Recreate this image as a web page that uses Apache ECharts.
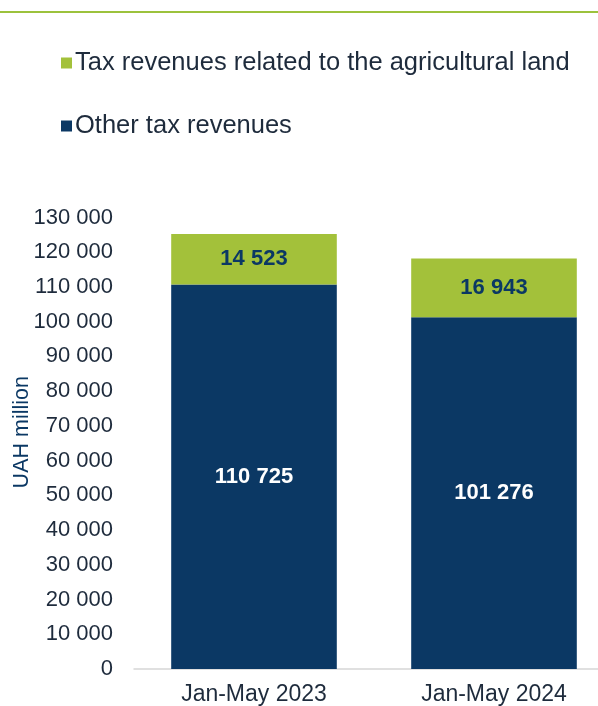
<!DOCTYPE html>
<html>
<head>
<meta charset="utf-8">
<script src="https://cdn.jsdelivr.net/npm/echarts@6/dist/echarts.min.js"></script>
<style>
  html, body { margin: 0; padding: 0; background: #ffffff; }
  #chart { width: 598px; height: 706px; }
</style>
</head>
<body>
<div id="chart"></div>
<script>
// Tax revenues, UAH million
const categories = ['Jan-May 2023', 'Jan-May 2024'];
const otherTax = [110725, 101276];
const agriLandTax = [14523, 16943];
const seriesNames = ['Tax revenues related to the agricultural land', 'Other tax revenues'];
const axisName = 'UAH million';

const NAVY = '#0b3864';
const GREEN = '#a3c13a';
const TEXT = '#1e2b3c';
const FONT = 'Liberation Sans, Arial, sans-serif';

// "110725" -> "110 725"
const spaced = v => String(Math.round(v)).replace(/\B(?=(\d{3})+(?!\d))/g, ' ');

const chart = echarts.init(document.getElementById('chart'), null, { renderer: 'canvas' });

chart.setOption({
  backgroundColor: '#ffffff',
  animation: false,
  textStyle: { fontFamily: FONT },
  graphic: [
    // thin green rule across the top
    { type: 'rect', left: 0, top: 11, shape: { width: 598, height: 2 }, style: { fill: '#9cc23c' } }
  ],
  legend: {
    orient: 'vertical',
    left: 56,
    top: 45,
    itemWidth: 11,
    itemHeight: 11,
    itemGap: 37,
    icon: 'rect',
    data: [seriesNames[0], seriesNames[1]],
    textStyle: { fontSize: 25.5, color: TEXT, fontFamily: FONT, lineHeight: 25, padding: [0, 0, 0, -2] }
  },
  grid: {
    left: 134, top: 217.5, width: 480, height: 451.5,
    containLabel: false,
    outerBoundsMode: 'none'
  },
  xAxis: {
    type: 'category',
    data: categories,
    axisLine: { show: true, lineStyle: { color: '#d6d6d6', width: 1.5 } },
    axisTick: { show: false },
    axisLabel: { fontSize: 23, color: TEXT, margin: 14, fontFamily: FONT }
  },
  yAxis: {
    type: 'value',
    min: 0,
    max: 130000,
    interval: 10000,
    name: axisName,
    nameLocation: 'middle',
    nameRotate: 90,
    nameGap: 101,
    nameMoveOverlap: false,
    nameTextStyle: { fontSize: 21.5, color: NAVY, fontFamily: FONT, padding: [0, 0, 0, 22] },
    splitLine: { show: false },
    axisLine: { show: false },
    axisTick: { show: false },
    axisLabel: { fontSize: 22, color: TEXT, margin: 21, fontFamily: FONT, formatter: spaced }
  },
  series: [
    {
      name: seriesNames[1],
      type: 'bar',
      stack: 'total',
      barWidth: '69%',
      data: otherTax,
      itemStyle: { color: NAVY },
      label: {
        show: true, position: 'inside', color: '#ffffff',
        fontSize: 22, fontWeight: 'bold', fontFamily: FONT,
        formatter: p => spaced(p.value)
      }
    },
    {
      name: seriesNames[0],
      type: 'bar',
      stack: 'total',
      barWidth: '69%',
      data: agriLandTax,
      itemStyle: { color: GREEN },
      label: {
        show: true, position: 'inside', color: NAVY,
        fontSize: 22, fontWeight: 'bold', fontFamily: FONT,
        formatter: p => spaced(p.value)
      }
    }
  ]
});
</script>
</body>
</html>
